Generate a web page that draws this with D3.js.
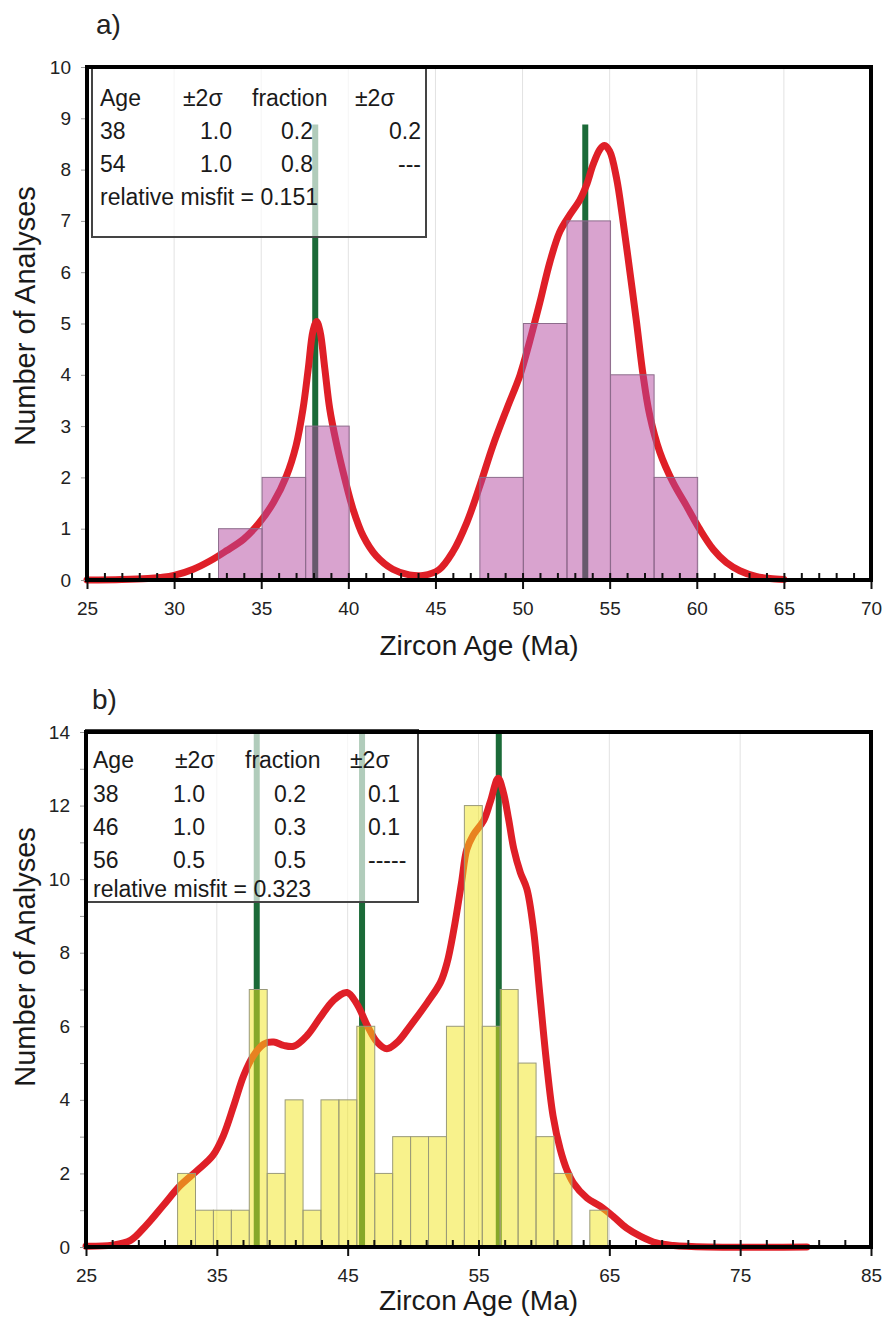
<!DOCTYPE html>
<html>
<head>
<meta charset="utf-8">
<script src="https://cdn.jsdelivr.net/npm/d3@7"></script>
<style>
  body { margin: 0; background: #fff; }
  svg { display: block; font-family: "Liberation Sans", Arial, sans-serif; }
  .tick text { font-size: 19px; fill: #222; }
</style>
</head>
<body>
<svg id="chart" width="882" height="1336"></svg>
<script>
// ---- panel a data ----
const binStartA = 32.55;
const binWidthA = 2.5;
const countsA = [1, 2, 3, 0, 0, 0, 2, 5, 7, 4, 2];
const peaksA = [38.1, 53.6];
const peakHeightA = 8.88;
const curveA = [
  [25, 0.0], [27, 0.01], [28.5, 0.03], [29.2, 0.05], [30, 0.09], [31.1, 0.21],
  [32.05, 0.37], [33.0, 0.57], [34.0, 0.8], [34.9, 1.12], [35.7, 1.51],
  [36.45, 2.03], [37.0, 2.62], [37.4, 3.34], [37.7, 4.12], [37.97, 4.85],
  [38.18, 5.04], [38.38, 4.84], [38.65, 4.12], [38.93, 3.34], [39.3, 2.69],
  [39.8, 1.97], [40.27, 1.38], [40.85, 0.86], [41.6, 0.47], [42.55, 0.21],
  [43.5, 0.1], [44.3, 0.09], [45.2, 0.2], [46.0, 0.55], [46.8, 1.12],
  [47.55, 1.84], [48.3, 2.62], [49.1, 3.34], [49.85, 3.99], [50.4, 4.64],
  [51.0, 5.42], [51.57, 6.2], [52.14, 6.79], [52.72, 7.12], [53.29, 7.41],
  [53.67, 7.7], [54.05, 8.1], [54.45, 8.4], [54.7, 8.47], [55.0, 8.36],
  [55.39, 7.84], [55.77, 6.99], [56.16, 6.01], [56.54, 5.03], [56.92, 3.99],
  [57.3, 3.21], [57.88, 2.49], [58.64, 1.9], [59.4, 1.45], [60.17, 0.99],
  [60.94, 0.6], [61.7, 0.34], [62.47, 0.18], [63.4, 0.07], [64.2, 0.03], [65.0, 0.01]
];
const legendA = {
  header: ["Age", "±2σ", "fraction", "±2σ"],
  ages: ["38", "54"],
  ageSigma: ["1.0", "1.0"],
  fractions: ["0.2", "0.8"],
  fracSigma: ["0.2", "---"],
  misfit: "0.151"
};

// ---- panel b data ----
const binStartB = 32.0;
const binWidthB = 1.37;
const countsB = [2, 1, 1, 1, 7, 2, 4, 1, 4, 4, 6, 2, 3, 3, 3, 6, 12, 6, 7, 5, 3, 2, 0, 1];
const peaksB = [38.05, 46.1, 56.55];
const peakHeightB = 14;
const curveB = [
  [25, 0.02], [27, 0.05], [28.4, 0.18], [29.6, 0.59], [30.9, 1.13], [32.2, 1.67],
  [33.5, 2.08], [34.7, 2.49], [35.5, 3.03], [36.3, 3.85], [37.05, 4.66],
  [37.8, 5.2], [38.6, 5.52], [39.35, 5.57], [40.1, 5.48], [40.9, 5.46],
  [41.9, 5.75], [42.9, 6.24], [43.9, 6.7], [44.95, 6.92], [45.7, 6.61],
  [46.5, 6.02], [47.25, 5.57], [48.0, 5.39], [48.8, 5.57], [49.8, 6.02],
  [51.1, 6.65], [52.1, 7.2], [52.6, 7.73], [53.1, 8.6], [53.7, 9.9],
  [54.1, 10.8], [54.6, 11.2], [55.4, 11.6], [55.9, 12.1], [56.5, 12.74],
  [56.9, 12.36], [57.3, 11.63], [57.7, 10.82], [58.2, 10.18], [58.7, 9.73],
  [59.2, 8.64], [59.7, 6.82], [60.2, 5.01], [60.7, 3.56], [61.25, 2.65],
  [61.75, 2.1], [62.25, 1.74], [63.3, 1.33], [64.3, 1.11], [65.3, 0.83],
  [66.3, 0.52], [67.4, 0.29], [68.6, 0.11], [69.9, 0.04], [72.5, 0.0], [80.1, 0.0]
];
const legendB = {
  header: ["Age", "±2σ", "fraction", "±2σ"],
  ages: ["38", "46", "56"],
  ageSigma: ["1.0", "1.0", "0.5"],
  fractions: ["0.2", "0.3", "0.5"],
  fracSigma: ["0.1", "0.1", "-----"],
  misfit: "0.323"
};

const svg = d3.select("#chart");

function drawPanel(cfg) {
  const x = d3.scaleLinear().domain(cfg.xDomain).range([cfg.left, cfg.right]);
  const y = d3.scaleLinear().domain(cfg.yDomain).range([cfg.bottom, cfg.top]);
  const g = svg.append("g");

  // panel letter
  g.append("text")
    .attr("x", cfg.letterX)
    .attr("y", cfg.letterY)
    .attr("font-size", 28)
    .attr("fill", "#222")
    .text(cfg.letter);

  // vertical grid
  g.append("g")
    .selectAll("line")
    .data(cfg.majors.slice(1, -1))
    .join("line")
    .attr("x1", (d) => x(d))
    .attr("x2", (d) => x(d))
    .attr("y1", cfg.top)
    .attr("y2", cfg.bottom)
    .attr("stroke", "#e2e2e2")
    .attr("stroke-width", 1);

  // component ages
  g.append("g")
    .selectAll("line")
    .data(cfg.peaks)
    .join("line")
    .attr("x1", (d) => x(d))
    .attr("x2", (d) => x(d))
    .attr("y1", y(0))
    .attr("y2", y(cfg.peakHeight))
    .attr("stroke", "#1b6a38")
    .attr("stroke-width", 6);

  // fitted density curve
  const line = d3
    .line()
    .x((d) => x(d[0]))
    .y((d) => y(d[1]))
    .curve(d3.curveCatmullRom.alpha(0.5));
  g.append("path")
    .datum(cfg.curve)
    .attr("d", line)
    .attr("fill", "none")
    .attr("stroke", "#df1f27")
    .attr("stroke-width", 7)
    .attr("stroke-linejoin", "round")
    .attr("stroke-linecap", "round");

  // histogram
  const bins = cfg.counts
    .map((c, i) => ({ lo: cfg.binStart + i * cfg.binWidth, c }))
    .filter((d) => d.c > 0);
  g.append("g")
    .selectAll("rect")
    .data(bins)
    .join("rect")
    .attr("x", (d) => x(d.lo))
    .attr("width", (d) => x(d.lo + cfg.binWidth) - x(d.lo))
    .attr("y", (d) => y(d.c))
    .attr("height", (d) => y(0) - y(d.c))
    .attr("fill", cfg.barFill)
    .attr("fill-opacity", 0.5)
    .attr("stroke", cfg.barStroke)
    .attr("stroke-width", 1);

  // legend box
  const lg = cfg.legend;
  const box = cfg.box;
  g.append("rect")
    .attr("x", box.x)
    .attr("y", box.y)
    .attr("width", box.w)
    .attr("height", box.h)
    .attr("fill", "#fff")
    .attr("fill-opacity", 0.66)
    .attr("stroke", "#444")
    .attr("stroke-width", 2);

  const txt = g.append("g").attr("font-size", 23).attr("fill", "#1a1a1a");
  lg.header.forEach((h, i) => {
    txt.append("text")
      .attr("x", box.headX[i])
      .attr("y", box.rowY[0])
      .text(h);
  });
  const cols = [lg.ages, lg.ageSigma, lg.fractions, lg.fracSigma];
  cols.forEach((col, ci) => {
    col.forEach((v, ri) => {
      txt.append("text")
        .attr("x", box.colX[ci])
        .attr("y", box.rowY[ri + 1])
        .attr("text-anchor", box.colAnchor[ci])
        .text(v);
    });
  });
  txt.append("text")
    .attr("x", box.headX[0])
    .attr("y", box.rowY[lg.ages.length + 1])
    .text("relative misfit = " + lg.misfit);

  // y axis ticks (gray, outside)
  const yAxis = d3
    .axisLeft(y)
    .tickValues(d3.range(cfg.yDomain[0], cfg.yDomain[1] + 1, 1))
    .tickSize(6)
    .tickPadding(8)
    .tickFormat((d) => (d % cfg.yLabelStep === 0 ? d : ""));
  const yG = g.append("g").attr("transform", `translate(${cfg.left},0)`).call(yAxis);
  yG.select(".domain").remove();
  yG.selectAll(".tick line").attr("stroke", "#999");
  yG.selectAll(".tick text").attr("dx", -2);

  // x axis: minor ticks inward, major ticks outward with labels
  const minorG = g.append("g")
    .attr("transform", `translate(0,${cfg.bottom})`)
    .call(d3.axisBottom(x).tickValues(cfg.minors).tickSize(-7).tickFormat(""));
  minorG.select(".domain").remove();
  minorG.selectAll(".tick line").attr("stroke", "#111").attr("stroke-width", 2);

  const majorG = g.append("g")
    .attr("transform", `translate(0,${cfg.bottom})`)
    .call(d3.axisBottom(x).tickValues(cfg.majors).tickSize(9).tickPadding(cfg.xLabelPad).tickFormat(d3.format("d")));
  majorG.select(".domain").remove();
  majorG.selectAll(".tick line").attr("stroke", "#111").attr("stroke-width", 2);

  // frame
  g.append("rect")
    .attr("x", cfg.left)
    .attr("y", cfg.top)
    .attr("width", cfg.right - cfg.left)
    .attr("height", cfg.bottom - cfg.top)
    .attr("fill", "none")
    .attr("stroke", "#000")
    .attr("stroke-width", 4);

  // axis titles
  g.append("text")
    .attr("x", (cfg.left + cfg.right) / 2)
    .attr("y", cfg.xTitleY)
    .attr("text-anchor", "middle")
    .attr("font-size", 28)
    .attr("fill", "#1a1a1a")
    .text("Zircon Age (Ma)");
  g.append("text")
    .attr("transform", `translate(35,${cfg.yTitleY}) rotate(-90)`)
    .attr("text-anchor", "middle")
    .attr("font-size", 29)
    .attr("fill", "#1a1a1a")
    .text("Number of Analyses");
}

drawPanel({
  letter: "a)", letterX: 96, letterY: 34,
  left: 87, right: 871, top: 67, bottom: 580,
  xDomain: [25, 70], yDomain: [0, 10], yLabelStep: 1,
  majors: d3.range(25, 71, 5), minors: d3.range(25, 71, 1),
  binStart: binStartA, binWidth: binWidthA, counts: countsA,
  peaks: peaksA, peakHeight: peakHeightA, curve: curveA,
  barFill: "#b4489f", barStroke: "#8d6c8c",
  legend: legendA,
  box: {
    x: 92, y: 68, w: 334, h: 169,
    rowY: [106, 139, 172, 205],
    headX: [100, 183, 252, 355],
    colX: [100, 232, 297, 421],
    colAnchor: ["start", "end", "middle", "end"]
  },
  xLabelPad: 13, xTitleY: 655, yTitleY: 316
});

drawPanel({
  letter: "b)", letterX: 92, letterY: 709,
  left: 86, right: 871, top: 732, bottom: 1247,
  xDomain: [25, 85], yDomain: [0, 14], yLabelStep: 2,
  majors: d3.range(25, 86, 10), minors: d3.range(25, 86, 2),
  binStart: binStartB, binWidth: binWidthB, counts: countsB,
  peaks: peaksB, peakHeight: peakHeightB, curve: curveB,
  barFill: "#f2e61a", barStroke: "#9a9a7a",
  legend: legendB,
  box: {
    x: 86, y: 730, w: 332, h: 172,
    rowY: [768, 802, 835, 868, 897],
    headX: [93, 175, 245, 350],
    colX: [93, 173, 290, 368],
    colAnchor: ["start", "start", "middle", "start"]
  },
  xLabelPad: 13, xTitleY: 1310, yTitleY: 957
});
</script>
</body>
</html>
